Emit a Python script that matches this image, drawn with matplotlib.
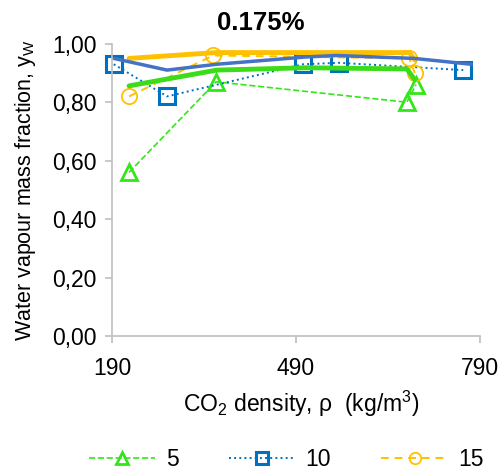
import numpy as np
import matplotlib.pyplot as plt

plt.rcParams['font.family'] = ['Liberation Sans', 'DejaVu Sans']
plt.rcParams['mathtext.fontset'] = 'custom'
plt.rcParams['mathtext.rm'] = 'Liberation Sans'
plt.rcParams['mathtext.it'] = 'Liberation Sans:italic'
plt.rcParams['mathtext.default'] = 'regular'

# measured series (CO2 density kg/m3, water vapour mass fraction)
rho_5 = [218, 360, 671, 686]
yw_5 = [0.56, 0.87, 0.80, 0.86]
rho_10 = [193, 280, 502, 560, 763]
yw_10 = [0.93, 0.82, 0.93, 0.935, 0.91]
rho_15 = [218, 355, 675, 684]
yw_15 = [0.82, 0.96, 0.95, 0.90]

# thick trend lines (no legend entry)
trend_rho_15 = [218, 360, 675, 684]
trend_yw_15 = [0.95, 0.97, 0.97, 0.945]
trend_rho_10 = [193, 280, 361, 507, 556, 683, 776]
trend_yw_10 = [0.95, 0.91, 0.93, 0.955, 0.96, 0.95, 0.93]
trend_rho_5 = [218, 361, 507, 671, 684]
trend_yw_5 = [0.856, 0.91, 0.918, 0.914, 0.877]

c_green = '#33E61A'
c_blue = '#0070C0'
c_orange = '#FFC000'

fig = plt.figure(figsize=(5.04, 4.76), dpi=100)
ax = fig.add_axes([0.222, 0.294, 0.730, 0.614])

ax.plot(rho_5, yw_5, linestyle='--', color=c_green, lw=1.2, marker='^', ms=12,
        mfc='none', mec=c_green, mew=2, label='5')
ax.plot(rho_10, yw_10, linestyle=':', color=c_blue, lw=1.4, marker='s', ms=11,
        mfc='none', mec=c_blue, mew=2.2, label='10')
ax.plot(rho_15, yw_15, linestyle=(0, (4, 3)), color=c_orange, lw=1.4, marker='o', ms=11,
        mfc='none', mec=c_orange, mew=1.3, label='15')

ax.plot(trend_rho_15, trend_yw_15, color=c_orange, lw=3.5, solid_capstyle='round')
ax.plot(trend_rho_5, trend_yw_5, color='#3DDC1A', lw=3.5, solid_capstyle='round')
ax.plot(trend_rho_10, trend_yw_10, color='#4472C4', lw=2.5, solid_capstyle='round')

ax.set_xlim(190, 790)
ax.set_ylim(0, 1.0)
ax.set_xticks([190, 490, 790])
ax.set_yticks(np.arange(0, 1.01, 0.2))
ax.set_yticklabels([f'{v:.2f}'.replace('.', ',') for v in np.arange(0, 1.01, 0.2)])

for s in ['top', 'right']:
    ax.spines[s].set_visible(False)
for s in ['left', 'bottom']:
    ax.spines[s].set_color('#BFBFBF')
    ax.spines[s].set_linewidth(1.2)
ax.tick_params(axis='both', colors='#BFBFBF', labelcolor='black', labelsize=16.5,
               length=5, width=1.2, direction='out')
ax.tick_params(axis='x', pad=10)
ax.tick_params(axis='y', pad=6)
for ln in ax.lines:
    ln.set_clip_on(False)

ax.set_xlabel(r'CO$_2$ density, ρ  (kg/m$^3$)', fontsize=16.5)
ax.xaxis.set_label_coords(0.514, -0.233)
ax.xaxis.label.set_va('center')
ax.set_ylabel(r'Water vapour mass fraction, y$_W$', fontsize=15.5)
ax.yaxis.set_label_coords(-0.236, 0.5)
ax.yaxis.label.set_va('center')
fig.text(0.517, 0.952, '0.175%', fontsize=18.5, fontweight='bold', ha='center', va='center')

fig.legend(handles=ax.lines[:3], loc='center', bbox_to_anchor=(0.568, 0.034), ncol=3,
           frameon=False, fontsize=16.5, handlelength=2.9, handletextpad=0.45,
           columnspacing=2.2, markerscale=0.75)

fig.savefig('out.png', dpi=100)
